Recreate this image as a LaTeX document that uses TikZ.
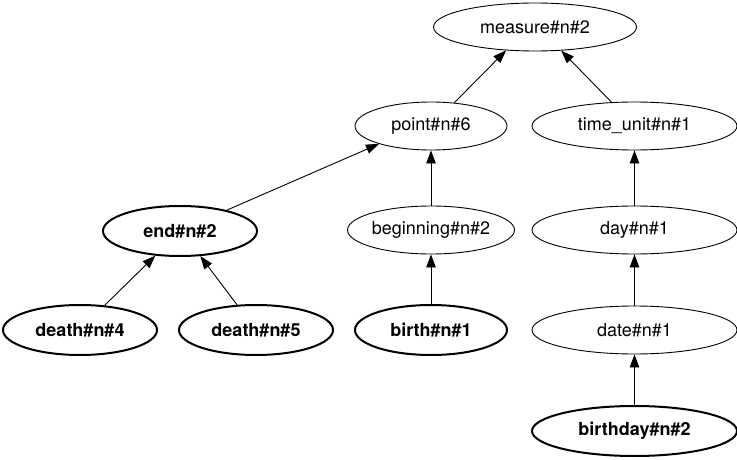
\documentclass[tikz,border=0pt]{standalone}
\usepackage{fontspec}
\setmainfont{TeX Gyre Heros}
\usetikzlibrary{shapes.geometric,arrows.meta}
\tikzset{
  base/.style={ellipse, draw, inner sep=0pt, minimum height=48pt, line width=0.9pt,
    font=\fontsize{18}{20}\selectfont},
  boldnode/.style={base, line width=2pt, minimum height=50pt, font=\fontsize{18}{20}\selectfont\bfseries},
  wide/.style={minimum width=205pt},
  narrow/.style={minimum width=152pt},
  edge/.style={line width=0.9pt, -{Triangle[length=13pt,width=9.5pt]}}
}
\begin{document}
\begin{tikzpicture}[x=1pt,y=1pt]
\useasboundingbox (0,0) rectangle (737,-460);
\node[base, minimum width=203pt] (measure) at (535,-27) {measure\#n\#2};
\node[base, narrow] (point) at (431,-126) {point\#n\#6};
\node[base, wide] (timeunit) at (634.5,-126) {time\_unit\#n\#1};
\node[boldnode, minimum width=154pt] (end) at (180,-231) {end\#n\#2};
\node[base, narrow] (beginning) at (431,-230) {beginning\#n\#2};
\node[base, wide] (day) at (634.5,-230) {day\#n\#1};
\node[boldnode, minimum width=154pt] (death4) at (80,-330) {death\#n\#4};
\node[boldnode, minimum width=154pt] (death5) at (256,-330) {death\#n\#5};
\node[boldnode, narrow] (birth) at (431,-330) {birth\#n\#1};
\node[base, wide] (date) at (634.5,-330) {date\#n\#1};
\node[boldnode, wide] (birthday) at (634.5,-431) {birthday\#n\#2};

\draw[edge] (point.45) -- (measure.219);
\draw[edge] (timeunit.134) -- (measure.318);
\draw[edge] (end.24) -- (point.199);
\draw[edge] (beginning) -- (point);
\draw[edge] (day) -- (timeunit);
\draw[edge] (death4.45) -- (end.225);
\draw[edge] (death5.127) -- (end.309);
\draw[edge] (birth) -- (beginning);
\draw[edge] (date) -- (day);
\draw[edge] (birthday) -- (date);
\end{tikzpicture}
\end{document}
